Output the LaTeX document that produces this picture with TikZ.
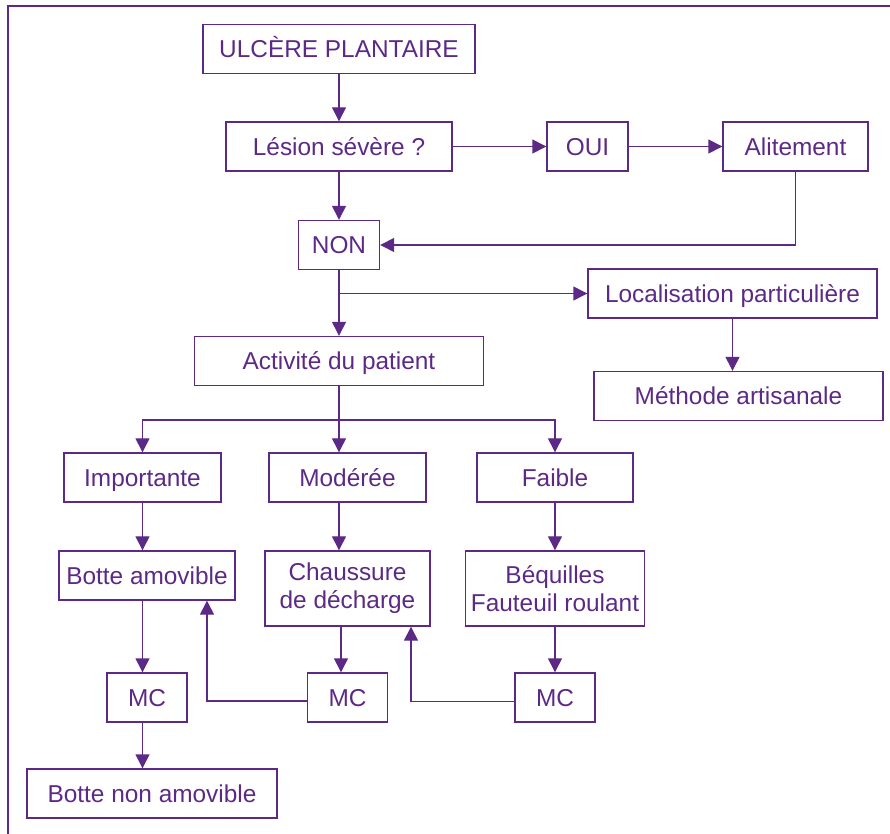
\documentclass[tikz,border=0pt]{standalone}
\usepackage{fontspec}
\setmainfont{Liberation Sans}
\usepackage{tikz}
\usetikzlibrary{arrows.meta, positioning}

\definecolor{ulcviolet}{RGB}{92,42,134}

\tikzset{
  box/.style = {draw=ulcviolet, text=ulcviolet, line width=0.7pt, inner sep=0pt,
                minimum height=24.5pt, align=center, text height=8.7pt, text depth=0pt,
                font=\fontsize{12.2pt}{14pt}\selectfont},
  tallbox/.style = {box, minimum height=37.5pt, text height={}, text depth={}},
  mcbox/.style = {box, minimum width=40pt}
}

\begin{document}
\begin{tikzpicture} [x=0.5pt, y=-0.5pt, on grid, line width=0.7pt, draw=ulcviolet,
                     >={Triangle[length=7pt, width=7pt]}]
\useasboundingbox (0,0) rectangle (890,834);
\draw[ulcviolet, line width=1pt] (8,834) -- (8,6) -- (890,6);

\node[box, minimum width=136pt] (ulcere) at (339,49) {ULCÈRE PLANTAIRE};
\node[box, minimum width=113pt] (lesion) [below = 48.75pt of ulcere] {Lésion sévère ?};
\node[box, minimum width=40.5pt] (oui) [right = 124.25pt of lesion] {OUI};
\node[box, minimum width=72.5pt] (alitement) [right = 104pt of oui] {Alitement};
\node[box, minimum width=40.5pt] (non) [below = 49.25pt of lesion] {NON};
\node[box, minimum width=144.5pt] (activite) [below = 58pt of non] {Activité du patient};
\node[box, minimum width=144.5pt] (localisation) [below right = 24.25pt and 196.75pt of non] {Localisation particulière};
\node[box, minimum width=144.5pt] (methode) [below right = 51.25pt and 3pt of localisation] {Méthode artisanale};

\node[box, minimum width=78.5pt] (moderee) [below right = 58.25pt and 4.25pt of activite] {Modérée};
\node[box, minimum width=78.5pt] (importante) [left = 102.5pt of moderee] {Importante};
\node[box, minimum width=78pt] (faible) [right = 103.75pt of moderee] {Faible};

\node[box, minimum width=88pt] (botte) [below right = 49pt and 2.25pt of importante] {Botte amovible};
\node[tallbox, minimum width=82.5pt] (chaussure) [below = 55.5pt of moderee] {Chaussure\\de décharge};
\node[tallbox, minimum width=89.5pt] (bequilles) [below = 55.5pt of faible] {Béquilles\\Fauteuil roulant};

\node[mcbox] (mc_botte) [below = 61pt of botte] {MC};
\node[mcbox] (mc_chaussure) [below = 54.5pt of chaussure] {MC};
\node[mcbox] (mc_bequilles) [below = 54.5pt of bequilles] {MC};
\node[box, minimum width=125pt] (botte_non) [below right = 48pt and 2.5pt of mc_botte] {Botte non amovible};

\draw[->] (ulcere) -- (lesion);
\draw[->] (lesion) -- (oui);
\draw[->] (oui) -- (alitement);
\draw[->] (lesion) -- (non);
\draw[->] (alitement) |- (non);
\draw[->] (non) -- (activite);
\draw[->] (non |- localisation) -- (localisation);
\draw[->] (localisation) -- (localisation |- methode.north);

\draw (activite.south) -- ++(0,34) coordinate (split);
\draw[->] (split) -| (importante);
\draw[->] (split) -| (faible);
\draw[->] (split) -- (split |- moderee.north);

\draw[->] (importante) -- (importante |- botte.north);
\draw[->] (split |- moderee.south) -- (split |- chaussure.north);
\draw[->] (faible) -- (bequilles);

\draw[->] (importante |- botte.south) -- (importante |- mc_botte.north);
\draw[->] ([xshift=1pt]split |- chaussure.south) -- ([xshift=1pt]split |- mc_chaussure.north);
\draw[->] (bequilles) -- (mc_bequilles);
\draw[->] (importante |- mc_botte.south) -- (importante |- botte_non.north);

\draw[->] ([yshift=-1.75pt]mc_chaussure.west) -| ([xshift=30pt]botte.south);
\draw[->] ([yshift=-2pt]mc_bequilles.west) -| ([xshift=31.75pt]chaussure.south);

\end{tikzpicture}
\end{document}
